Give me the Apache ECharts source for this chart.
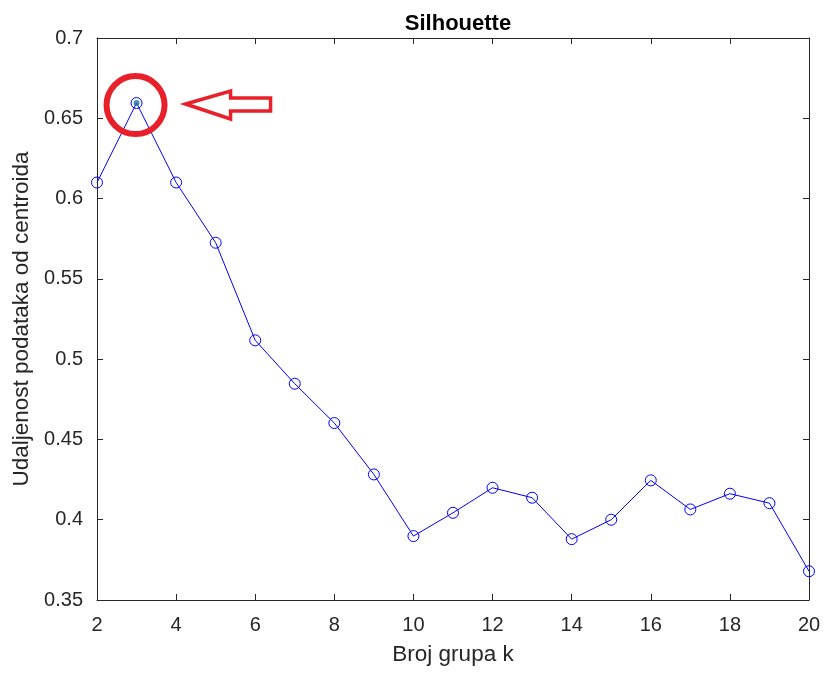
<!DOCTYPE html>
<html>
<head>
<meta charset="utf-8">
<script src="https://cdn.jsdelivr.net/npm/echarts@6/dist/echarts.min.js"></script>
<style>html,body{margin:0;padding:0;background:#fff}#c{width:826px;height:675px}</style>
</head>
<body>
<div id="c"></div>
<script>
const kValues = [2,3,4,5,6,7,8,9,10,11,12,13,14,15,16,17,18,19,20];
const silhouette = [0.610,0.6595,0.610,0.5725,0.5117,0.4847,0.4602,0.4282,0.3898,0.4043,0.4199,0.4137,0.3879,0.4000,0.4245,0.4064,0.4162,0.4103,0.3679];
const highlightK = 3;
const titleText = 'Silhouette';
const xName = 'Broj grupa k';
const yName = 'Udaljenost podataka od centroida';

const chart = echarts.init(document.getElementById('c'));
const font = 'Liberation Sans, Arial, sans-serif';
const txt = '#262626';
const axisCol = '#262626';
const data = kValues.map((k,i)=>[k, silhouette[i]]);
const hi = data[kValues.indexOf(highlightK)];

chart.setOption({
  animation:false,
  backgroundColor:'#fff',
  title:{text:titleText,left:453,textAlign:'center',top:8,textStyle:{fontFamily:font,fontSize:22,fontWeight:'bold',color:'#000'}},
  grid:{left:97,right:17,top:38,bottom:75,show:false},
  xAxis:[{type:'value',min:2,max:20,interval:2,name:xName,nameLocation:'middle',nameGap:43,
    nameTextStyle:{fontFamily:font,fontSize:22.5,color:txt},
    axisLine:{show:true,onZero:false,lineStyle:{color:axisCol,width:1}},
    axisTick:{show:true,inside:true,length:6,lineStyle:{color:axisCol}},
    axisLabel:{fontFamily:font,fontSize:20,color:txt,margin:15},
    splitLine:{show:false}},
   {type:'value',position:'top',min:2,max:20,interval:2,
    axisLine:{show:true,onZero:false,lineStyle:{color:axisCol,width:1}},
    axisTick:{show:true,inside:true,length:6,lineStyle:{color:axisCol}},
    axisLabel:{show:false},splitLine:{show:false}}],
  yAxis:[{type:'value',min:0.35,max:0.7,interval:0.05,name:yName,nameLocation:'middle',nameGap:60,
    nameTextStyle:{fontFamily:font,fontSize:22.5,color:txt},
    axisLine:{show:true,onZero:false,lineStyle:{color:axisCol,width:1}},
    axisTick:{show:true,inside:true,length:6,lineStyle:{color:axisCol}},
    axisLabel:{fontFamily:font,fontSize:20,color:txt,margin:14,formatter:v=>String(+v.toFixed(2))},
    splitLine:{show:false}},
   {type:'value',position:'right',min:0.35,max:0.7,interval:0.05,
    axisLine:{show:true,onZero:false,lineStyle:{color:axisCol,width:1}},
    axisTick:{show:true,inside:true,length:6,lineStyle:{color:axisCol}},
    axisLabel:{show:false},splitLine:{show:false}}],
  series:[
    {type:'line',data:data,symbol:'circle',symbolSize:11,showAllSymbol:true,
     lineStyle:{color:'#0000ff',width:1},
     itemStyle:{color:'rgba(0,0,0,0)',borderColor:'#0000ff',borderWidth:1}},
    {type:'scatter',data:[hi],symbol:'circle',symbolSize:6,itemStyle:{color:'#1a6fae'},z:5}
  ]
});

const p = chart.convertToPixel({xAxisIndex:0,yAxisIndex:0}, hi);
const cx = p[0], cy = p[1];
const red = '#e8202a';
const ax = cx + 49, ay = cy + 1;
chart.setOption({
  graphic:[
    {type:'circle',shape:{cx:cx-1,cy:cy+2,r:29},style:{fill:null,stroke:red,lineWidth:6},z:10},
    {type:'polygon',shape:{points:[
      [ax,ay],[ax+45,ay-13],[ax+45,ay-6],[ax+85,ay-6],[ax+85,ay+7],[ax+45,ay+7],[ax+45,ay+15]
    ]},style:{fill:'#fff',stroke:red,lineWidth:3.5,lineJoin:'miter'},z:10}
  ]
});
</script>
</body>
</html>
